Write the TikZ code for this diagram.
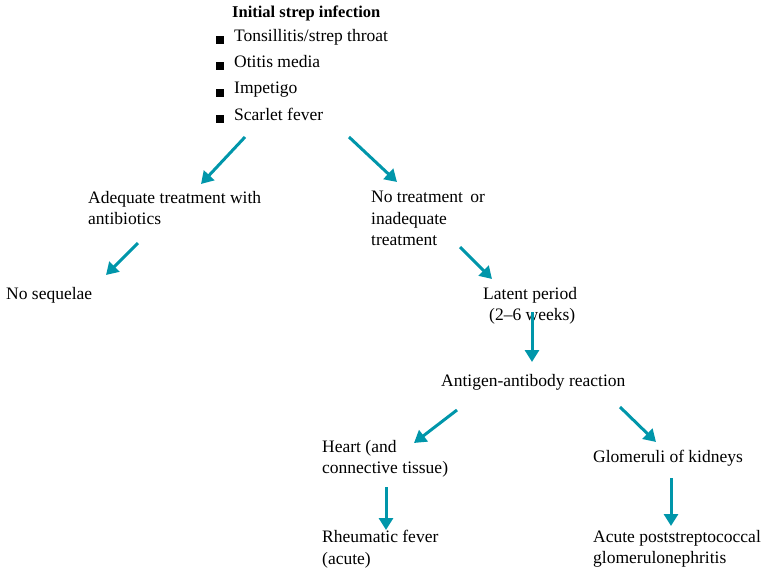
\documentclass[tikz,border=0pt]{standalone}
\usepackage{fontspec}
\setmainfont{Liberation Serif}
\usetikzlibrary{arrows.meta}
\definecolor{teal}{RGB}{0,150,170}
\begin{document}
\begin{tikzpicture}[x=1pt,y=-1pt,
  lbl/.style={anchor=north west,inner sep=0pt,align=left,font=\fontsize{17.5}{21.5}\selectfont},
  bul/.style={fill=black,minimum size=8pt,inner sep=0pt},
  arr/.style={draw=teal,line width=3pt,-{Triangle[length=12pt,width=14pt]}}]
\useasboundingbox (0,0) rectangle (782,578);
\node[lbl,font=\fontsize{16.5}{20}\selectfont\bfseries] (title) at (232,6) {Initial strep infection};
\foreach \i/\y/\t in {1/40/{Tonsillitis/strep throat},2/66/{Otitis media},3/93/{Impetigo},4/119/{Scarlet fever}}{
  \node[bul] (b\i) at (220,\y) {};
  \node[lbl] (t\i) at (234,\y-11) {\t};
}
\node[lbl] (adeq) at (88,191) {Adequate treatment with\\antibiotics};
\node[lbl] (notr) at (371,191) {No treatment\, or\\inadequate\\treatment};
\node[lbl] (noseq) at (6,287) {No sequelae};
\node[lbl] (lat) at (483,287) {Latent period\\\hspace*{6pt}(2--6 weeks)};
\node[lbl] (ag) at (441,374) {Antigen-antibody reaction};
\node[lbl] (heart) at (322,440) {Heart (and\\connective tissue)};
\node[lbl] (glom) at (593,450) {Glomeruli of kidneys};
\node[lbl] (rheu) at (322,530) {Rheumatic fever\\(acute)};
\node[lbl] (acute) at (593,530) {Acute poststreptococcal\\glomerulonephritis};
\coordinate (a1s) at (245,137); \coordinate (a1e) at (201,184);
\coordinate (a2s) at (349,137); \coordinate (a2e) at (397,182);
\coordinate (a3s) at (138,243); \coordinate (a3e) at (106,275);
\coordinate (a4s) at (460,247); \coordinate (a4e) at (492,279);
\coordinate (a5s) at (532,312); \coordinate (a5e) at (532,362);
\coordinate (a6s) at (457,410); \coordinate (a6e) at (414,443);
\coordinate (a7s) at (620,407); \coordinate (a7e) at (656,442);
\coordinate (a8s) at (386,487); \coordinate (a8e) at (386,530);
\coordinate (a9s) at (671,478); \coordinate (a9e) at (671,526);
\foreach \k in {1,...,9}{\draw[arr] (a\k s) -- (a\k e);}
\end{tikzpicture}
\end{document}
